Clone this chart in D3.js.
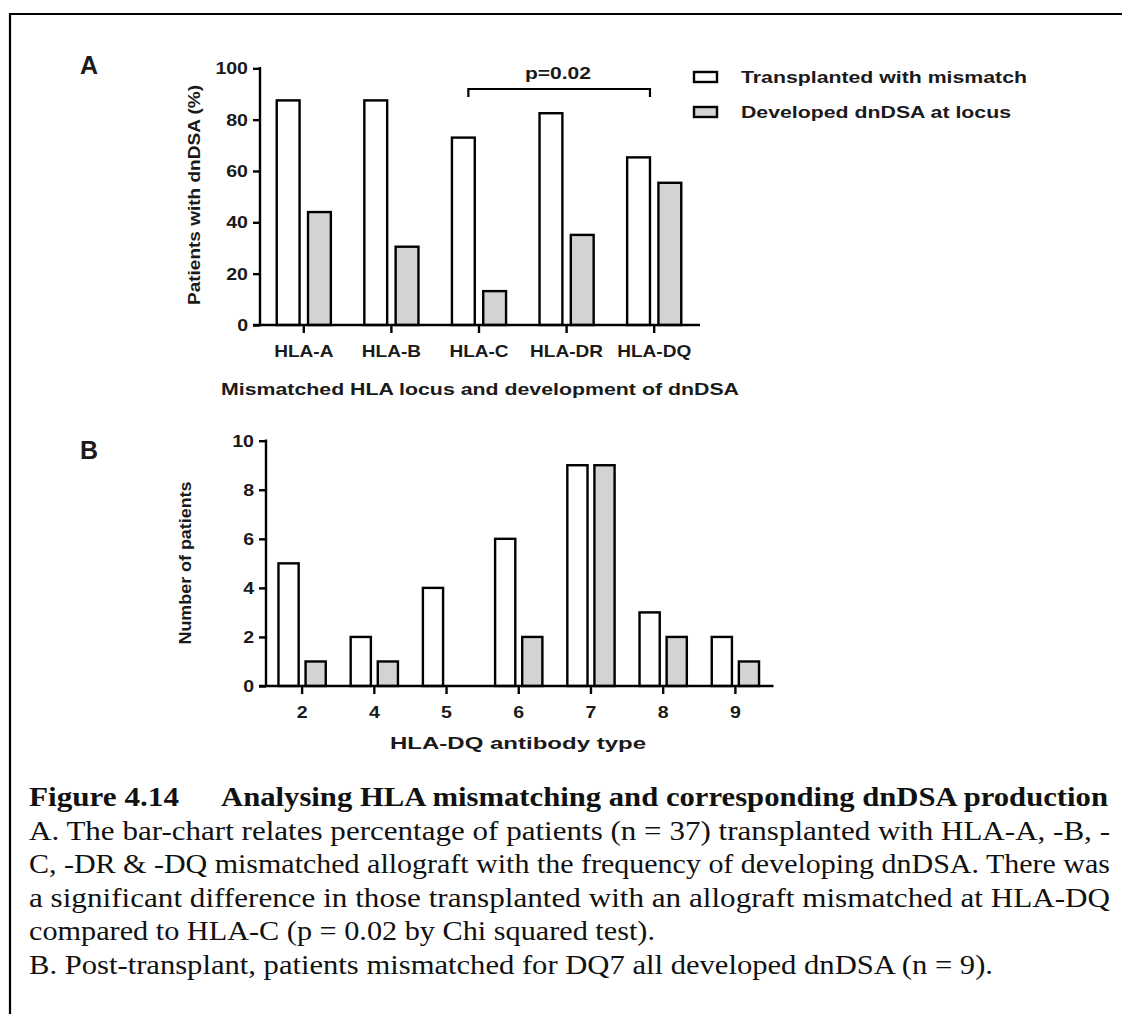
<!DOCTYPE html>
<html><head><meta charset="utf-8">
<script src="https://cdn.jsdelivr.net/npm/d3@7"></script>
<style>
body{margin:0;background:#fff}
svg{display:block}
.ch{font-family:"Liberation Sans",Arial,sans-serif;font-weight:bold;fill:#1a1a1a}
.cap{font-family:"Liberation Serif","Times New Roman",serif;fill:#111}
</style></head>
<body><svg id="c" width="1122" height="1014"></svg>
<script>
// ---- data ----
const lociA = ["HLA-A", "HLA-B", "HLA-C", "HLA-DR", "HLA-DQ"];
const transplantedA = [87.5, 87.5, 73, 82.5, 65.3];
const developedA = [44, 30.5, 13.2, 35.1, 55.4];
const ticksA = [0, 20, 40, 60, 80, 100];
const typesB = ["2", "4", "5", "6", "7", "8", "9"];
const mismatchedB = [5, 2, 4, 6, 9, 3, 2];
const developedB = [1, 1, 0, 2, 9, 2, 1];
const ticksB = [0, 2, 4, 6, 8, 10];
const seriesNames = ["Transplanted with mismatch", "Developed dnDSA at locus"];
const seriesFill = ["#ffffff", "#d3d3d3"];
const pLabel = "p=0.02";
const titleA = "Mismatched HLA locus and development of dnDSA";
const yTitleA = "Patients with dnDSA (%)";
const titleB = "HLA-DQ antibody type";
const yTitleB = "Number of patients";
const captionTitle = ["Figure 4.14", "Analysing HLA mismatching and corresponding dnDSA production"];
const captionLines = [
  "A. The bar-chart relates percentage of patients (n = 37) transplanted with HLA-A, -B, -",
  "C, -DR & -DQ mismatched allograft with the frequency of developing dnDSA. There was",
  "a significant difference in those transplanted with an allograft mismatched at HLA-DQ",
  "compared to HLA-C (p = 0.02 by Chi squared test).",
  "B. Post-transplant, patients mismatched for DQ7 all developed dnDSA (n = 9)."
];
const captionEnds = [1110, 1110, 1110, 655, 993];

const svg = d3.select("#c");
const FACT = 1.15;
function stretch(sel, f) {
  sel.each(function () {
    const w = this.getComputedTextLength();
    d3.select(this).attr("textLength", w * f).attr("lengthAdjust", "spacingAndGlyphs");
  });
}
function fixLen(sel, len) { sel.attr("textLength", len).attr("lengthAdjust", "spacingAndGlyphs"); }

// frame
svg.append("path").attr("d", "M10,1014 L10,14 L1122,14").attr("fill", "none").attr("stroke", "#000").attr("stroke-width", 2.2);

function panel(cfg) {
  const g = svg.append("g");
  const x = d3.scaleBand().domain(cfg.cats).range(cfg.xr).padding(0);
  const x1 = d3.scaleBand().domain([0, 1]).range([0, x.bandwidth()]).paddingInner(cfg.pi).paddingOuter(cfg.po);
  const y = d3.scaleLinear().domain(cfg.yd).range(cfg.yr);
  const data = cfg.cats.map((c, i) => ({c, v: [cfg.s0[i], cfg.s1[i]]}));
  // bars
  const grp = g.selectAll("g.grp").data(data).join("g").attr("transform", d => `translate(${x(d.c)},0)`);
  grp.selectAll("rect").data(d => d.v.map((v, k) => ({v, k}))).join("rect")
    .attr("x", d => x1(d.k)).attr("width", x1.bandwidth())
    .attr("y", d => y(d.v)).attr("height", d => y(0) - y(d.v))
    .attr("fill", d => seriesFill[d.k]).attr("stroke", "#000").attr("stroke-width", 2.4);
  // y axis
  const ya = g.append("g").attr("transform", `translate(${cfg.xr[0]},0)`)
    .call(d3.axisLeft(y).tickValues(cfg.ticks).tickSize(7).tickPadding(5));
  ya.select(".domain").remove();
  ya.selectAll("line").attr("stroke", "#000").attr("stroke-width", 2.4);
  ya.selectAll("text").attr("class", "ch").attr("font-size", 17).style("font-family", null).call(stretch, FACT);
  g.append("line").attr("x1", cfg.xr[0]).attr("x2", cfg.xr[0]).attr("y1", y(cfg.yd[1]) - 1.2).attr("y2", y(0))
    .attr("stroke", "#000").attr("stroke-width", 2.4);
  // x axis
  const xa = g.append("g").attr("transform", `translate(0,${y(0)})`)
    .call(d3.axisBottom(x).tickSize(8).tickPadding(12).tickSizeOuter(0));
  xa.select(".domain").remove();
  xa.selectAll("line").attr("stroke", "#000").attr("stroke-width", 2.4);
  xa.selectAll("text").attr("class", "ch").attr("font-size", 17).style("font-family", null).call(stretch, cfg.xf);
  g.append("line").attr("x1", cfg.xr[0] - 7).attr("x2", cfg.xr[1] + 2).attr("y1", y(0)).attr("y2", y(0))
    .attr("stroke", "#000").attr("stroke-width", 2.4);
  // titles
  g.append("text").attr("class", "ch").attr("font-size", 16.5)
    .attr("x", cfg.titleX).attr("y", cfg.titleY).attr("text-anchor", "middle").attr("dominant-baseline", "central")
    .text(cfg.title).call(fixLen, cfg.titleLen);
  g.append("text").attr("class", "ch").attr("font-size", 17)
    .attr("transform", `translate(${cfg.ytX},${cfg.ytY}) rotate(-90)`).attr("text-anchor", "middle").attr("dominant-baseline", "central")
    .text(cfg.yTitle).call(fixLen, cfg.ytLen);
  g.append("text").attr("class", "ch").attr("font-size", 25).attr("x", 80).attr("y", cfg.letterY)
    .text(cfg.letter);
  return {x, x1, y, g};
}

const A = panel({
  cats: lociA, s0: transplantedA, s1: developedA, xr: [260, 698], pi: 0.27, po: 0.535,
  yd: [0, 100], yr: [325, 68.3], ticks: ticksA, xf: 1.12,
  title: titleA, titleX: 480, titleY: 389, titleLen: 518,
  yTitle: yTitleA, ytX: 194, ytY: 195, ytLen: 220, letter: "A", letterY: 74
});
const B = panel({
  cats: typesB, s0: mismatchedB, s1: developedB, xr: [266, 771.5], pi: 0.255, po: 0.46,
  yd: [0, 10], yr: [686, 440.7], ticks: ticksB, xf: 1.15,
  title: titleB, titleX: 518, titleY: 743, titleLen: 256,
  yTitle: yTitleB, ytX: 185, ytY: 563, ytLen: 163, letter: "B", letterY: 459
});

// significance bracket (HLA-C vs HLA-DQ, transplanted bars)
{
  const bx1 = A.x("HLA-C") + A.x1(0) + A.x1.bandwidth() / 2 + 5;
  const bx2 = A.x("HLA-DQ") + A.x1(0) + A.x1.bandwidth();
  const by = 89, bt = 97;
  A.g.append("path").attr("d", `M${bx1},${bt} L${bx1},${by} L${bx2},${by} L${bx2},${bt}`)
    .attr("fill", "none").attr("stroke", "#000").attr("stroke-width", 2.2);
  A.g.append("text").attr("class", "ch").attr("font-size", 17).attr("x", 558).attr("y", 73)
    .attr("text-anchor", "middle").attr("dominant-baseline", "central").text(pLabel).call(fixLen, 66);
}

// legend
const leg = svg.append("g");
const legY = [77, 112];
const legLen = [286, 270];
seriesNames.forEach((n, i) => {
  leg.append("rect").attr("x", 694).attr("y", legY[i] - 5).attr("width", 23).attr("height", 10)
    .attr("fill", seriesFill[i]).attr("stroke", "#000").attr("stroke-width", 2.4);
  leg.append("text").attr("class", "ch").attr("font-size", 17).attr("x", 741).attr("y", legY[i])
    .attr("dominant-baseline", "central").text(n).call(fixLen, legLen[i]);
});

// caption
const cap = svg.append("g");
cap.append("text").attr("class", "cap").attr("font-weight", "bold").attr("font-size", 28)
  .attr("x", 29).attr("y", 806).text(captionTitle[0]).call(fixLen, 150);
cap.append("text").attr("class", "cap").attr("font-weight", "bold").attr("font-size", 28)
  .attr("x", 221).attr("y", 806).text(captionTitle[1]).call(fixLen, 887);
captionLines.forEach((t, i) => {
  cap.append("text").attr("class", "cap").attr("font-size", 27)
    .attr("x", 29).attr("y", 839.6 + i * 33.6).text(t).call(fixLen, captionEnds[i] - 29);
});
</script></body></html>
